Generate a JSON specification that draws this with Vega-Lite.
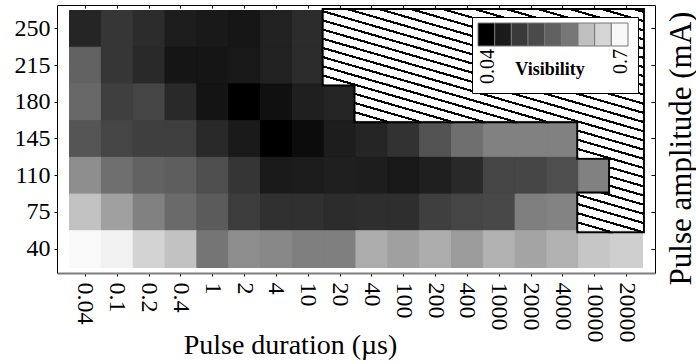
{
  "$schema": "https://vega.github.io/schema/vega-lite/v6.json",
  "width": 598,
  "height": 268,
  "autosize": {"type": "none"},
  "padding": {"left": 57, "top": 5, "right": 41, "bottom": 91},
  "background": "white",
  "config": {
    "view": {"stroke": null},
    "font": "Liberation Serif",
    "axis": {"grid": false, "labelColor": "black", "titleColor": "black", "tickColor": "black", "domainColor": "black", "labelFont": "Liberation Serif", "titleFont": "Liberation Serif", "titleFontWeight": "normal"}
  },
  "data": {"values": [
    {"duration":"0.04","amplitude":250,"visibility":0.138},{"duration":"0.1","amplitude":250,"visibility":0.190},{"duration":"0.2","amplitude":250,"visibility":0.159},{"duration":"0.4","amplitude":250,"visibility":0.112},{"duration":"1","amplitude":250,"visibility":0.097},{"duration":"2","amplitude":250,"visibility":0.087},{"duration":"4","amplitude":250,"visibility":0.123},{"duration":"10","amplitude":250,"visibility":0.159},{"duration":"20","amplitude":250,"visibility":null},{"duration":"40","amplitude":250,"visibility":null},{"duration":"100","amplitude":250,"visibility":null},{"duration":"200","amplitude":250,"visibility":null},{"duration":"400","amplitude":250,"visibility":null},{"duration":"1000","amplitude":250,"visibility":null},{"duration":"2000","amplitude":250,"visibility":null},{"duration":"4000","amplitude":250,"visibility":null},{"duration":"10000","amplitude":250,"visibility":null},{"duration":"20000","amplitude":250,"visibility":null},
    {"duration":"0.04","amplitude":215,"visibility":0.314},{"duration":"0.1","amplitude":215,"visibility":0.190},{"duration":"0.2","amplitude":215,"visibility":0.149},{"duration":"0.4","amplitude":215,"visibility":0.084},{"duration":"1","amplitude":215,"visibility":0.084},{"duration":"2","amplitude":215,"visibility":0.094},{"duration":"4","amplitude":215,"visibility":0.123},{"duration":"10","amplitude":215,"visibility":0.159},{"duration":"20","amplitude":215,"visibility":null},{"duration":"40","amplitude":215,"visibility":null},{"duration":"100","amplitude":215,"visibility":null},{"duration":"200","amplitude":215,"visibility":null},{"duration":"400","amplitude":215,"visibility":null},{"duration":"1000","amplitude":215,"visibility":null},{"duration":"2000","amplitude":215,"visibility":null},{"duration":"4000","amplitude":215,"visibility":null},{"duration":"10000","amplitude":215,"visibility":null},{"duration":"20000","amplitude":215,"visibility":null},
    {"duration":"0.04","amplitude":180,"visibility":0.330},{"duration":"0.1","amplitude":180,"visibility":0.216},{"duration":"0.2","amplitude":180,"visibility":0.232},{"duration":"0.4","amplitude":180,"visibility":0.149},{"duration":"1","amplitude":180,"visibility":0.081},{"duration":"2","amplitude":180,"visibility":0.040},{"duration":"4","amplitude":180,"visibility":0.071},{"duration":"10","amplitude":180,"visibility":0.118},{"duration":"20","amplitude":180,"visibility":0.138},{"duration":"40","amplitude":180,"visibility":null},{"duration":"100","amplitude":180,"visibility":null},{"duration":"200","amplitude":180,"visibility":null},{"duration":"400","amplitude":180,"visibility":null},{"duration":"1000","amplitude":180,"visibility":null},{"duration":"2000","amplitude":180,"visibility":null},{"duration":"4000","amplitude":180,"visibility":null},{"duration":"10000","amplitude":180,"visibility":null},{"duration":"20000","amplitude":180,"visibility":null},
    {"duration":"0.04","amplitude":145,"visibility":0.278},{"duration":"0.1","amplitude":145,"visibility":0.232},{"duration":"0.2","amplitude":145,"visibility":0.216},{"duration":"0.4","amplitude":145,"visibility":0.216},{"duration":"1","amplitude":145,"visibility":0.149},{"duration":"2","amplitude":145,"visibility":0.102},{"duration":"4","amplitude":145,"visibility":0.040},{"duration":"10","amplitude":145,"visibility":0.061},{"duration":"20","amplitude":145,"visibility":0.112},{"duration":"40","amplitude":145,"visibility":0.138},{"duration":"100","amplitude":145,"visibility":0.176},{"duration":"200","amplitude":145,"visibility":0.273},{"duration":"400","amplitude":145,"visibility":0.348},{"duration":"1000","amplitude":145,"visibility":0.397},{"duration":"2000","amplitude":145,"visibility":0.397},{"duration":"4000","amplitude":145,"visibility":0.397},{"duration":"10000","amplitude":145,"visibility":null},{"duration":"20000","amplitude":145,"visibility":null},
    {"duration":"0.04","amplitude":110,"visibility":0.428},{"duration":"0.1","amplitude":110,"visibility":0.348},{"duration":"0.2","amplitude":110,"visibility":0.314},{"duration":"0.4","amplitude":110,"visibility":0.304},{"duration":"1","amplitude":110,"visibility":0.260},{"duration":"2","amplitude":110,"visibility":0.185},{"duration":"4","amplitude":110,"visibility":0.102},{"duration":"10","amplitude":110,"visibility":0.107},{"duration":"20","amplitude":110,"visibility":0.118},{"duration":"40","amplitude":110,"visibility":0.112},{"duration":"100","amplitude":110,"visibility":0.094},{"duration":"200","amplitude":110,"visibility":0.118},{"duration":"400","amplitude":110,"visibility":0.149},{"duration":"1000","amplitude":110,"visibility":0.232},{"duration":"2000","amplitude":110,"visibility":0.232},{"duration":"4000","amplitude":110,"visibility":0.260},{"duration":"10000","amplitude":110,"visibility":0.397},{"duration":"20000","amplitude":110,"visibility":null},
    {"duration":"0.04","amplitude":75,"visibility":0.558},{"duration":"0.1","amplitude":75,"visibility":0.475},{"duration":"0.2","amplitude":75,"visibility":0.397},{"duration":"0.4","amplitude":75,"visibility":0.335},{"duration":"1","amplitude":75,"visibility":0.294},{"duration":"2","amplitude":75,"visibility":0.206},{"duration":"4","amplitude":75,"visibility":0.172},{"duration":"10","amplitude":75,"visibility":0.172},{"duration":"20","amplitude":75,"visibility":0.159},{"duration":"40","amplitude":75,"visibility":0.164},{"duration":"100","amplitude":75,"visibility":0.164},{"duration":"200","amplitude":75,"visibility":0.216},{"duration":"400","amplitude":75,"visibility":0.232},{"duration":"1000","amplitude":75,"visibility":0.242},{"duration":"2000","amplitude":75,"visibility":0.392},{"duration":"4000","amplitude":75,"visibility":0.402},{"duration":"10000","amplitude":75,"visibility":null},{"duration":"20000","amplitude":75,"visibility":null},
    {"duration":"0.04","amplitude":40,"visibility":0.687},{"duration":"0.1","amplitude":40,"visibility":0.671},{"duration":"0.2","amplitude":40,"visibility":0.599},{"duration":"0.4","amplitude":40,"visibility":0.558},{"duration":"1","amplitude":40,"visibility":0.366},{"duration":"2","amplitude":40,"visibility":0.426},{"duration":"4","amplitude":40,"visibility":0.413},{"duration":"10","amplitude":40,"visibility":0.392},{"duration":"20","amplitude":40,"visibility":0.392},{"duration":"40","amplitude":40,"visibility":0.506},{"duration":"100","amplitude":40,"visibility":0.475},{"duration":"200","amplitude":40,"visibility":0.506},{"duration":"400","amplitude":40,"visibility":0.464},{"duration":"1000","amplitude":40,"visibility":0.516},{"duration":"2000","amplitude":40,"visibility":0.485},{"duration":"4000","amplitude":40,"visibility":0.516},{"duration":"10000","amplitude":40,"visibility":0.568},{"duration":"20000","amplitude":40,"visibility":0.589}
  ]},
  "resolve": {"axis": {"x": "independent", "y": "independent"}},
  "layer": [
    {
      "transform": [{"filter": "datum.visibility != null"}],
      "mark": {"type": "rect"},
      "encoding": {
        "x": {"field": "duration", "type": "ordinal", "sort": null, "scale": {"domain": ["0.04","0.1","0.2","0.4","1","2","4","10","20","40","100","200","400","1000","2000","4000","10000","20000"], "paddingInner": 0, "paddingOuter": 0.395}, "axis": null},
        "y": {"field": "amplitude", "type": "ordinal", "sort": null, "scale": {"domain": [250,215,180,145,110,75,40], "paddingInner": 0, "paddingOuter": 0.15}, "axis": null},
        "color": {
          "field": "visibility", "type": "quantitative",
          "scale": {"type": "quantize", "domain": [0.04, 0.7], "range": ["#000000","#1a1a1a","#3a3a3a","#4a4a4a","#606060","#777777","#c0c0c0","#d5d5d5","#f8f8f8"]},
          "legend": {
            "type": "gradient",
            "orient": "none", "legendX": 415, "legendY": 12,
            "direction": "horizontal",
            "gradientLength": 150, "gradientThickness": 23,
            "gradientStrokeColor": "#777777", "gradientStrokeWidth": 1,
            "fillColor": "white", "strokeColor": "black", "strokeWidth": 1.5, "padding": 6,
            "labelFontSize": 20, "labelOffset": 3, "labelColor": "black", "labelFont": "Liberation Serif", "labelOverlap": false,
            "labelExpr": "datum.value <= 0.045 ? '0.04' : datum.value >= 0.6 ? '0.7' : ''",
            "title": ["Visibility", " "], "titleLineHeight": 8, "titleOrient": "bottom", "titleAnchor": "middle", "titlePadding": -23,
            "titleFontSize": 18, "titleFontWeight": "bold", "titleFont": "Liberation Serif", "titleColor": "black",
            "encode": {"labels": {"update": {"angle": {"value": 270}, "align": {"value": "right"}, "baseline": {"value": "top"}}}}
          }
        }
      }
    },
    {
      "transform": [{"filter": "datum.visibility != null"}],
      "mark": {"type": "rect", "strokeWidth": 1},
      "encoding": {
        "x": {"field": "duration", "type": "ordinal", "sort": null, "scale": {"domain": ["0.04","0.1","0.2","0.4","1","2","4","10","20","40","100","200","400","1000","2000","4000","10000","20000"], "paddingInner": 0, "paddingOuter": 0.395},
          "axis": {"orient": "bottom", "labelAngle": 90, "labelAlign": "left", "labelBaseline": "middle", "labelFontSize": 24, "labelPadding": 6, "tickSize": 3, "domainColor": "#7f7f7f", "domainWidth": 2, "title": "Pulse duration (µs)", "titleFontSize": 28, "titleX": 233, "titleY": 80, "titleAlign": "center", "titleBaseline": "alphabetic"}},
        "y": {"field": "amplitude", "type": "ordinal", "sort": null, "scale": {"domain": [250,215,180,145,110,75,40], "paddingInner": 0, "paddingOuter": 0.15},
          "axis": {"orient": "left", "labelFontSize": 24, "labelPadding": 4, "tickSize": 3, "title": null}},
        "fill": {"field": "visibility", "type": "quantitative", "scale": {"domain": [0.04, 0.7], "range": ["#000000", "#ffffff"]}, "legend": null},
        "stroke": {"field": "visibility", "type": "quantitative", "scale": {"domain": [0.04, 0.7], "range": ["#000000", "#ffffff"]}, "legend": null}
      }
    },
    {
      "transform": [{"filter": "datum.visibility == null"}],
      "mark": {"type": "rect", "filled": false, "stroke": "black", "strokeWidth": 5},
      "encoding": {
        "x": {"field": "duration", "type": "ordinal", "sort": null, "axis": null},
        "y": {"field": "amplitude", "type": "ordinal", "sort": null, "axis": null}
      }
    },
    {
      "transform": [{"filter": "datum.visibility == null"}],
      "mark": {
        "type": "rect", "strokeWidth": 1,
        "fill": {"gradient": "linear", "x1": 0, "y1": 1, "x2": 0.2941, "y2": -0.1765, "stops": [
          {"offset": 0, "color": "white"}, {"offset": 0.152, "color": "white"}, {"offset": 0.152, "color": "black"}, {"offset": 0.2, "color": "black"},
          {"offset": 0.2, "color": "white"}, {"offset": 0.352, "color": "white"}, {"offset": 0.352, "color": "black"}, {"offset": 0.4, "color": "black"},
          {"offset": 0.4, "color": "white"}, {"offset": 0.552, "color": "white"}, {"offset": 0.552, "color": "black"}, {"offset": 0.6, "color": "black"},
          {"offset": 0.6, "color": "white"}, {"offset": 0.752, "color": "white"}, {"offset": 0.752, "color": "black"}, {"offset": 0.8, "color": "black"},
          {"offset": 0.8, "color": "white"}, {"offset": 0.952, "color": "white"}, {"offset": 0.952, "color": "black"}, {"offset": 1, "color": "black"}]},
        "stroke": {"gradient": "linear", "x1": 0, "y1": 1, "x2": 0.2941, "y2": -0.1765, "stops": [
          {"offset": 0, "color": "white"}, {"offset": 0.152, "color": "white"}, {"offset": 0.152, "color": "black"}, {"offset": 0.2, "color": "black"},
          {"offset": 0.2, "color": "white"}, {"offset": 0.352, "color": "white"}, {"offset": 0.352, "color": "black"}, {"offset": 0.4, "color": "black"},
          {"offset": 0.4, "color": "white"}, {"offset": 0.552, "color": "white"}, {"offset": 0.552, "color": "black"}, {"offset": 0.6, "color": "black"},
          {"offset": 0.6, "color": "white"}, {"offset": 0.752, "color": "white"}, {"offset": 0.752, "color": "black"}, {"offset": 0.8, "color": "black"},
          {"offset": 0.8, "color": "white"}, {"offset": 0.952, "color": "white"}, {"offset": 0.952, "color": "black"}, {"offset": 1, "color": "black"}]}
      },
      "encoding": {
        "x": {"field": "duration", "type": "ordinal", "sort": null,
          "axis": {"orient": "top", "labels": false, "tickSize": -3, "title": null}},
        "y": {"field": "amplitude", "type": "ordinal", "sort": null,
          "axis": {"orient": "right", "labels": false, "tickSize": -4, "title": "Pulse amplitude (mA)", "titleFontSize": 31, "titleAngle": 270, "titleX": 35, "titleY": 143, "titleAlign": "center", "titleBaseline": "alphabetic"}}
      }
    }
  ]
}
